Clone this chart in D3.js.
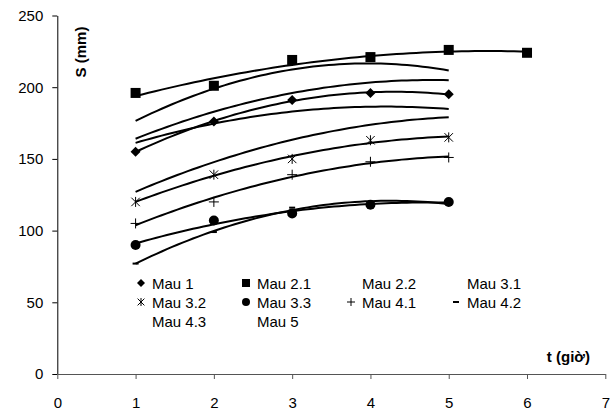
<!DOCTYPE html>
<html>
<head>
<meta charset="utf-8">
<script src="https://cdn.jsdelivr.net/npm/d3@7"></script>
<style>
  html, body { margin: 0; padding: 0; background: #fff; }
  svg { display: block; font-family: "Liberation Sans", Arial, sans-serif; }
</style>
</head>
<body>
<svg id="chart" width="615" height="414"></svg>
<script>
// ---------------- data ----------------
const seriesNames = ["Mau 1", "Mau 2.1", "Mau 2.2", "Mau 3.1", "Mau 3.2",
                     "Mau 3.3", "Mau 4.1", "Mau 4.2", "Mau 4.3", "Mau 5"];
const hours   = [1, 2, 3, 4, 5];
const hours21 = [1, 2, 3, 4, 5, 6];
const mau1  = [155, 176, 191, 196, 195];
const mau21 = [196, 201, 219, 221, 226, 224];
const mau22 = [176, 200, 212, 216, 212];
const mau31 = [164, 183, 196, 203, 205];
const mau32 = [120, 139, 150, 163, 165];
const mau33 = [90, 107, 112, 118, 120];
const mau41 = [105, 120, 139, 148, 151];
const mau42 = [77, 99, 116, 119, 119];
const mau43 = [161, 175, 183, 186, 185];
const mau5  = [127, 148, 163, 174, 179];
const xTicks = [0, 1, 2, 3, 4, 5, 6, 7];
const yTicks = [0, 50, 100, 150, 200, 250];
const xLabel = "t (giờ)";
const yLabel = "S (mm)";

// marker style per series (style, not data)
const markerOf = {
  "Mau 1": "diamond", "Mau 2.1": "square", "Mau 2.2": "none", "Mau 3.1": "none",
  "Mau 3.2": "star", "Mau 3.3": "circle", "Mau 4.1": "plus", "Mau 4.2": "dash",
  "Mau 4.3": "none", "Mau 5": "none"
};

const series = [
  {name: seriesNames[0], xs: hours,   ys: mau1},
  {name: seriesNames[1], xs: hours21, ys: mau21},
  {name: seriesNames[2], xs: hours,   ys: mau22},
  {name: seriesNames[3], xs: hours,   ys: mau31},
  {name: seriesNames[4], xs: hours,   ys: mau32},
  {name: seriesNames[5], xs: hours,   ys: mau33},
  {name: seriesNames[6], xs: hours,   ys: mau41},
  {name: seriesNames[7], xs: hours,   ys: mau42},
  {name: seriesNames[8], xs: hours,   ys: mau43},
  {name: seriesNames[9], xs: hours,   ys: mau5}
];

// ---------------- polynomial (order 2) trendline ----------------
function polyFit2(xs, ys) {
  let n = xs.length, s1=0, s2=0, s3=0, s4=0, t0=0, t1=0, t2=0;
  for (let i = 0; i < n; i++) {
    const x = xs[i], y = ys[i];
    s1 += x; s2 += x*x; s3 += x*x*x; s4 += x*x*x*x;
    t0 += y; t1 += x*y; t2 += x*x*y;
  }
  const M = [[n, s1, s2, t0], [s1, s2, s3, t1], [s2, s3, s4, t2]];
  for (let i = 0; i < 3; i++) {
    for (let k = i + 1; k < 3; k++) {
      const f = M[k][i] / M[i][i];
      for (let j = i; j < 4; j++) M[k][j] -= f * M[i][j];
    }
  }
  const c = M[2][3] / M[2][2];
  const b = (M[1][3] - M[1][2]*c) / M[1][1];
  const a = (M[0][3] - M[0][1]*b - M[0][2]*c) / M[0][0];
  return x => a + b*x + c*x*x;
}

// ---------------- chart ----------------
const svg = d3.select("#chart");
const x = d3.scaleLinear().domain([0, 7]).range([57.3, 605.3]);
const y = d3.scaleLinear().domain([0, 250]).range([374, 15.5]);

// axes
const yAxis = svg.append("g").attr("transform", `translate(${x(0)},0)`)
  .call(d3.axisLeft(y).tickValues(yTicks).tickFormat(d3.format("d"))
    .tickSize(5).tickSizeOuter(0).tickPadding(9));
const xAxis = svg.append("g").attr("transform", `translate(0,${y(0)})`)
  .call(d3.axisBottom(x).tickValues(xTicks).tickFormat(d3.format("d"))
    .tickSize(5).tickSizeOuter(0).tickPadding(18));
[yAxis, xAxis].forEach(g => {
  g.selectAll("text").attr("font-size", 15).attr("fill", "#000")
    .attr("font-family", "'Liberation Sans', Arial, sans-serif");
  g.selectAll("line").attr("stroke", "#000");
  g.select(".domain").attr("stroke", "#000");
});
xAxis.select(".domain").attr("stroke", "#555");
xAxis.selectAll("line").attr("stroke", "#555");

// axis titles
svg.append("text").attr("transform", "translate(86,52) rotate(-90)")
  .attr("text-anchor", "middle").attr("font-size", 15).attr("font-weight", "bold")
  .text(yLabel);
svg.append("text").attr("x", 590).attr("y", 362)
  .attr("text-anchor", "end").attr("font-size", 15).attr("font-weight", "bold")
  .text(xLabel);

// markers
function drawMarker(g, type, s) {
  const r = s / 2;
  if (type === "diamond") {
    g.append("path").attr("d", `M0,${-r}L${r},0L0,${r}L${-r},0Z`).attr("fill", "#000");
  } else if (type === "square") {
    g.append("rect").attr("x", -r).attr("y", -r).attr("width", s).attr("height", s).attr("fill", "#000");
  } else if (type === "circle") {
    g.append("circle").attr("r", r).attr("fill", "#000");
  } else if (type === "star") {
    const q = r * 0.85;
    g.append("path").attr("d", `M${-q},${-q}L${q},${q}M${-q},${q}L${q},${-q}M0,${-r}L0,${r}`)
      .attr("stroke", "#000").attr("stroke-width", 1).attr("fill", "none");
  } else if (type === "plus") {
    g.append("path").attr("d", `M${-r},0L${r},0M0,${-r}L0,${r}`)
      .attr("stroke", "#000").attr("stroke-width", 1).attr("fill", "none");
  } else if (type === "dash") {
    g.append("rect").attr("x", -3).attr("y", -1).attr("width", 6).attr("height", 2).attr("fill", "#000");
  }
}

const markerSize = {diamond: 10, square: 10, circle: 10, star: 10, plus: 10, dash: 6};

// series markers
series.forEach(s => {
  const type = markerOf[s.name];
  if (type === "none") return;
  s.xs.forEach((xv, i) => {
    const g = svg.append("g").attr("transform", `translate(${x(xv)},${y(s.ys[i])})`);
    drawMarker(g, type, markerSize[type]);
  });
});

// trendlines
const line = d3.line().x(d => x(d[0])).y(d => y(d[1])).curve(d3.curveLinear);
series.forEach(s => {
  const f = polyFit2(s.xs, s.ys);
  const x0 = d3.min(s.xs), x1 = d3.max(s.xs);
  const pts = d3.range(0, 61).map(i => { const xv = x0 + (x1 - x0) * i / 60; return [xv, f(xv)]; });
  svg.append("path").attr("d", line(pts)).attr("fill", "none")
    .attr("stroke", "#000").attr("stroke-width", 2);
});

// legend
const legend = svg.append("g");
seriesNames.forEach((name, i) => {
  const col = i % 4, row = Math.floor(i / 4);
  const mx = 141 + col * 105, cy = 283 + row * 19;
  const type = markerOf[name];
  if (type !== "none") {
    const g = legend.append("g").attr("transform", `translate(${mx},${cy})`);
    drawMarker(g, type, type === "dash" ? 6 : 8);
  }
  legend.append("text").attr("x", mx + 11).attr("y", cy + 5.5)
    .attr("font-size", 15).attr("fill", "#000").text(name);
});
</script>
</body>
</html>
